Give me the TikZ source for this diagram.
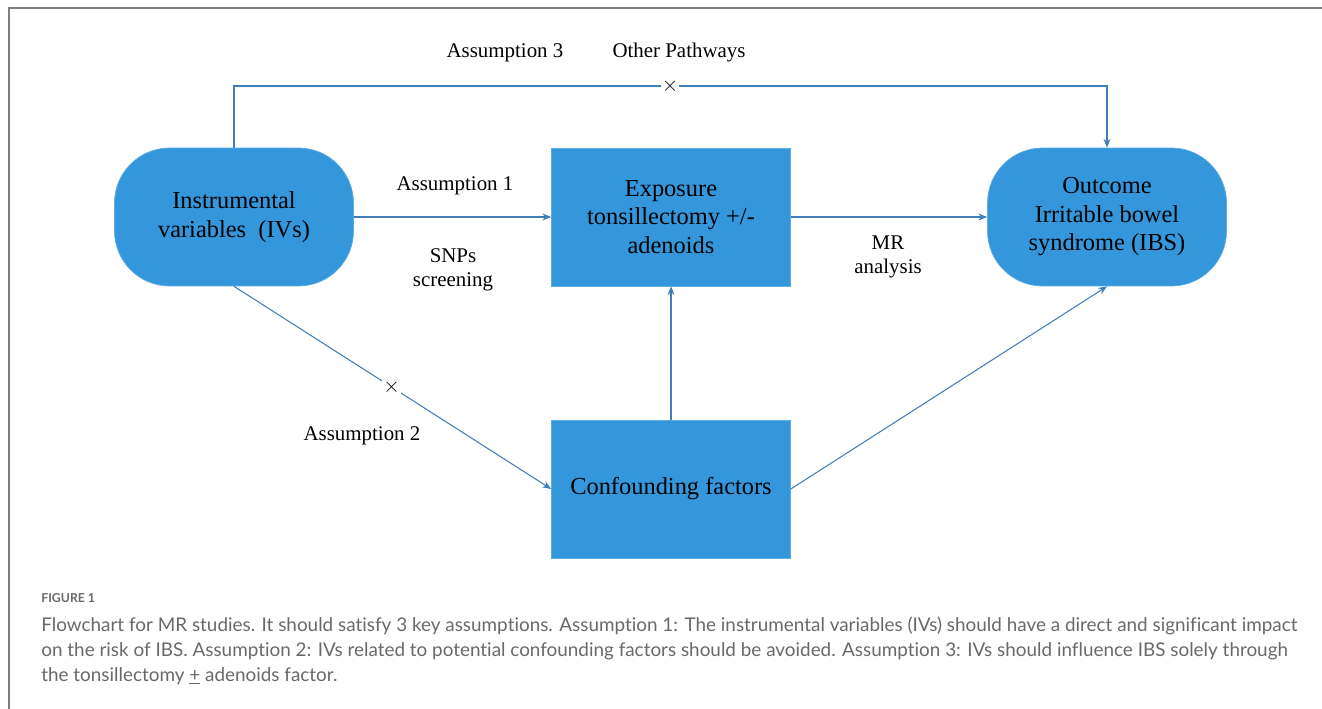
\documentclass[tikz,border=0pt]{standalone}
\usepackage{fontspec}
\setmainfont{Liberation Serif}
\newfontfamily\capfont[Ligatures=NoCommon]{Lato}
\usetikzlibrary{arrows.meta}
\definecolor{boxblue}{RGB}{52,150,219}
\definecolor{boxedge}{RGB}{95,172,228}
\definecolor{linkblue}{RGB}{66,126,186}
\definecolor{framegray}{RGB}{125,125,125}
\definecolor{capgray}{RGB}{105,105,105}
\begin{document}
\begin{tikzpicture}[x=0.02cm,y=-0.02cm,
  box/.style={draw=boxedge,fill=boxblue,minimum width=4.78cm,minimum height=2.76cm,
    align=center,inner sep=0pt,font=\fontsize{13.9}{16.2}\selectfont},
  pill/.style={box,rounded corners=1.1cm},
  link/.style={draw=linkblue,line width=0.6pt,-{Stealth[length=5pt,width=4pt]}},
  lab/.style={align=center,inner sep=0pt,font=\fontsize{11.9}{13.7}\selectfont},
  cross/.style={fill=white,inner sep=0.6pt,font=\fontsize{12}{12}\selectfont},
  caption/.style={anchor=base west,inner sep=0pt,text=capgray,font=\capfont\fontsize{10.75}{12}\selectfont}]
\useasboundingbox (0,0) rectangle (1322,709);
% frame
\draw[framegray,line width=0.9pt] (9,709) -- (9,8) -- (1322,8);

% boxes
\node[pill] (ivs) at (234,217) {Instrumental\\variables~ (IVs)};
\node[box] (exp) at (671,217) {Exposure\\tonsillectomy +/-\\adenoids};
\node[pill] (out) at (1107,217) {Outcome\\Irritable bowel\\syndrome (IBS)};
\node[box] (conf) at (671,489) {Confounding factors};

% links
\coordinate (top) at (670,86);
\draw[link] (ivs.north) |- (top) -| (out.north);
\node[cross] at (top) {\(\times\)};
\draw[link] (ivs) -- (exp);
\draw[link] (exp) -- (out);
\draw[link] (conf) -- (exp);
\draw[link] (conf.east) -- (out.south);
\draw[link] (ivs.south) -- node[cross,pos=0.497] {\(\times\)} (conf.west);

% labels
\node[lab] (a3) at (505,53) {Assumption 3};
\node[lab] (op) at (679,53) {Other Pathways};
\node[lab] (a1) at (455,186) {Assumption 1};
\node[lab] (snp) at (453,270) {SNPs\\screening};
\node[lab] (mr) at (888,257) {MR\\analysis};
\node[lab] (a2) at (362,436) {Assumption 2};

% caption
\node[caption,font=\capfont\bfseries\fontsize{7}{9}\selectfont] (fig) at (41,602) {FIGURE 1};
\node[caption] (c1) at (41,631) {Flowchart for MR studies. It should satisfy 3 key assumptions. Assumption 1: The instrumental variables (IVs) should have a direct and significant impact};
\node[caption] (c2) at (41,656) {on the risk of IBS. Assumption 2: IVs related to potential confounding factors should be avoided. Assumption 3: IVs should influence IBS solely through};
\node[caption] (c3) at (41,681) {the tonsillectomy \underline{+} adenoids factor.};
\end{tikzpicture}
\end{document}
